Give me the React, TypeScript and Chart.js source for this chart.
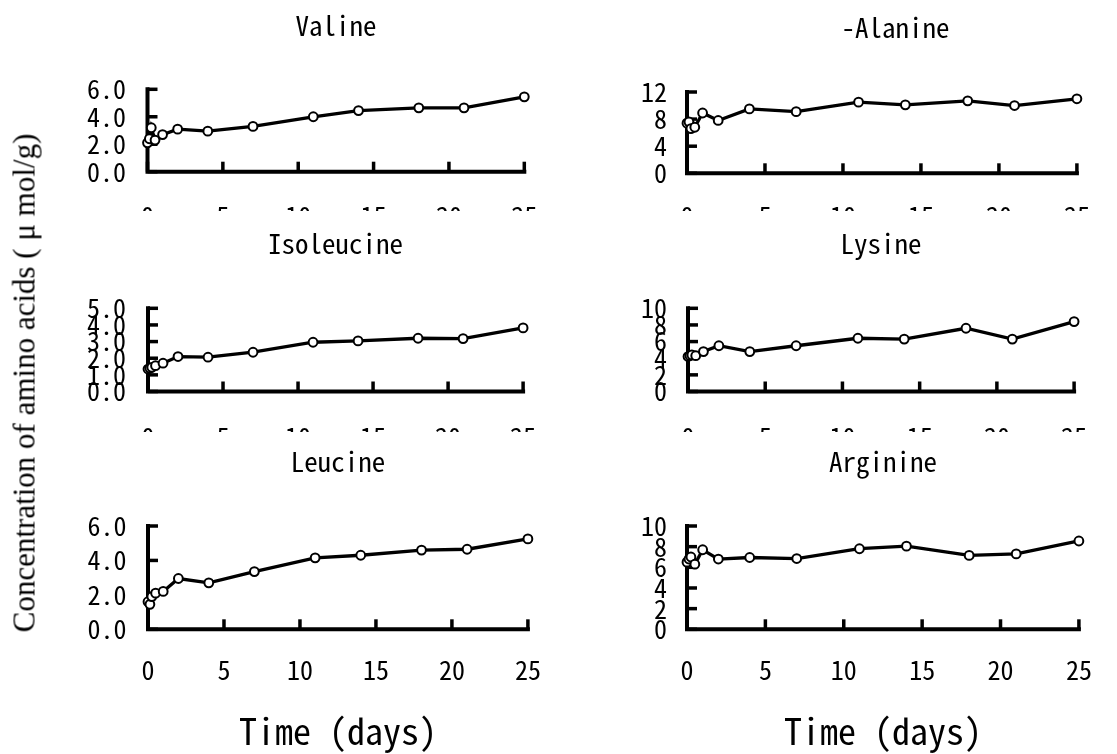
import React, { useEffect, useRef } from "react";
import { Chart, registerables } from "chart.js";

Chart.register(...registerables);

// ---------- data ----------
const days = [0, 0.125, 0.25, 0.5, 1, 2, 4, 7, 11, 14, 18, 21, 25];

const valine = [2.1, 2.4, 3.2, 2.3, 2.7, 3.1, 2.95, 3.3, 4.0, 4.45, 4.65, 4.65, 5.45];
const alanine = [7.4, 7.6, 6.6, 6.8, 8.9, 7.8, 9.5, 9.1, 10.5, 10.1, 10.7, 10.0, 11.0];
const isoleucine = [1.35, 1.4, 1.45, 1.55, 1.7, 2.1, 2.06, 2.36, 2.96, 3.04, 3.2, 3.18, 3.82];
const lysine = [4.2, 4.3, 4.4, 4.3, 4.8, 5.5, 4.8, 5.5, 6.4, 6.3, 7.6, 6.3, 8.4];
const leucine = [1.6, 1.45, 1.9, 2.1, 2.2, 2.95, 2.7, 3.35, 4.15, 4.3, 4.6, 4.65, 5.25];
const arginine = [6.5, 6.8, 7.0, 6.3, 7.7, 6.8, 6.95, 6.85, 7.8, 8.05, 7.15, 7.3, 8.55];

const xTickValues = [0, 5, 10, 15, 20, 25];
const xTickLabels = ["0", "5", "10", "15", "20", "25"];

const valineTicks = [0, 2, 4, 6];
const valineTickLabels = ["0.0", "2.0", "4.0", "6.0"];
const alanineTicks = [0, 4, 8, 12];
const alanineTickLabels = ["0", "4", "8", "12"];
const isoleucineTicks = [0, 1, 2, 3, 4, 5];
const isoleucineTickLabels = ["0.0", "1.0", "2.0", "3.0", "4.0", "5.0"];
const lysineTicks = [0, 2, 4, 6, 8, 10];
const lysineTickLabels = ["0", "2", "4", "6", "8", "10"];
const leucineTicks = [0, 2, 4, 6];
const leucineTickLabels = ["0.0", "2.0", "4.0", "6.0"];
const arginineTicks = [0, 2, 4, 6, 8, 10];
const arginineTickLabels = ["0", "2", "4", "6", "8", "10"];

const yAxisTitle = "Concentration of amino acids ( \u03bc mol/g)";
const xAxisTitle = "Time (days)";

// ---------- styles / layout ----------
const MONO = "'Noto Sans Mono CJK JP', 'Liberation Mono', monospace";
const SERIF = "'Liberation Serif', 'Times New Roman', serif";

type Panel = {
  title: string;
  values: number[];
  ticks: number[];
  tickLabels: string[];
  left: number;
  top: number;
  width: number;
  clipH: number;
  canvasH: number;
  yW: number;
  padR: number;
  tpt: number;
  tpb: number;
  xH: number;
  xTickPad: number;
  yTickPad: number;
  showXTitle: boolean;
};

const panels: Panel[] = [
  { title: "Valine", values: valine, ticks: valineTicks, tickLabels: valineTickLabels,
    left: 0, top: 0, width: 566, clipH: 211, canvasH: 260, yW: 147.5, padR: 20.5,
    tpt: 9.8, tpb: 47.1, xH: 88.3, xTickPad: 28.7, yTickPad: 21.5, showXTitle: false },
  { title: "  -Alanine", values: alanine, ticks: alanineTicks, tickLabels: alanineTickLabels,
    left: 560, top: 0, width: 557, clipH: 211, canvasH: 260, yW: 127, padR: 22,
    tpt: 11.3, tpb: 48.3, xH: 86.7, xTickPad: 27.1, yTickPad: 20, showXTitle: false },
  { title: "Isoleucine", values: isoleucine, ticks: isoleucineTicks, tickLabels: isoleucineTickLabels,
    left: 0, top: 211, width: 566, clipH: 221, canvasH: 260, yW: 148, padR: 20.5,
    tpt: 16.8, tpb: 48.1, xH: 79.5, xTickPad: 29.9, yTickPad: 22, showXTitle: false },
  { title: "Lysine", values: lysine, ticks: lysineTicks, tickLabels: lysineTickLabels,
    left: 560, top: 211, width: 557, clipH: 221, canvasH: 260, yW: 128, padR: 22,
    tpt: 16.8, tpb: 48.1, xH: 79.5, xTickPad: 29.9, yTickPad: 21, showXTitle: false },
  { title: "Leucine", values: leucine, ticks: leucineTicks, tickLabels: leucineTickLabels,
    left: 0, top: 432, width: 566, clipH: 322, canvasH: 322, yW: 148, padR: 20.5,
    tpt: 13.3, tpb: 48.3, xH: 124.7, xTickPad: 25.1, yTickPad: 21.5, showXTitle: true },
  { title: "Arginine", values: arginine, ticks: arginineTicks, tickLabels: arginineTickLabels,
    left: 560, top: 432, width: 557, clipH: 322, canvasH: 322, yW: 127, padR: 22,
    tpt: 13.3, tpb: 48.3, xH: 124.7, xTickPad: 25.1, yTickPad: 20, showXTitle: true },
];

const inwardAxes = {
  id: "inwardAxes",
  beforeDatasetsDraw(chart: any) {
    const { ctx, chartArea } = chart;
    const { left, right, top, bottom } = chartArea;
    const xs = chart.scales.x;
    const ys = chart.scales.y;
    ctx.save();
    ctx.strokeStyle = "#000";
    ctx.lineCap = "butt";
    ctx.lineWidth = 3.5;
    ys.ticks.forEach((t: any) => {
      const py = ys.getPixelForValue(t.value);
      ctx.beginPath();
      ctx.moveTo(left, py);
      ctx.lineTo(left + 10, py);
      ctx.stroke();
    });
    xs.ticks.forEach((t: any) => {
      const px = xs.getPixelForValue(t.value);
      ctx.beginPath();
      ctx.moveTo(px, bottom);
      ctx.lineTo(px, bottom - 10);
      ctx.stroke();
    });
    ctx.lineWidth = 4;
    ctx.lineCap = "square";
    ctx.lineJoin = "miter";
    ctx.beginPath();
    ctx.moveTo(left, top);
    ctx.lineTo(left, bottom);
    ctx.lineTo(right, bottom);
    ctx.stroke();
    ctx.restore();
  },
};

function PanelChart({ p }: { p: Panel }) {
  const ref = useRef<HTMLCanvasElement | null>(null);
  useEffect(() => {
    if (!ref.current) return;
    const yMax = p.ticks[p.ticks.length - 1];
    const chart = new Chart(ref.current, {
      type: "line",
      data: {
        datasets: [
          {
            data: days.map((d, i) => ({ x: d, y: p.values[i] })),
            borderColor: "#000",
            borderWidth: 3.3,
            pointRadius: 4.4,
            pointBorderWidth: 2,
            pointBackgroundColor: "#fff",
            pointBorderColor: "#000",
            tension: 0,
            clip: false as any,
          },
        ],
      },
      options: {
        responsive: false,
        animation: false,
        events: [],
        layout: { padding: { left: 0, right: p.padR, top: 0, bottom: 0 } },
        plugins: {
          legend: { display: false },
          tooltip: { enabled: false },
          title: {
            display: true,
            text: p.title,
            fullSize: false,
            color: "#000",
            font: { family: MONO, size: 27, weight: "normal", lineHeight: 1.2 },
            padding: { top: p.tpt, bottom: p.tpb },
          },
        },
        scales: {
          x: {
            type: "linear",
            min: 0,
            max: 25,
            grid: { display: false, drawTicks: false },
            border: { display: false },
            afterBuildTicks: (s: any) => {
              s.ticks = xTickValues.map((v) => ({ value: v }));
            },
            afterFit: (s: any) => {
              s.height = p.xH;
            },
            ticks: {
              autoSkip: false,
              maxRotation: 0,
              minRotation: 0,
              padding: p.xTickPad,
              color: "#000",
              font: { family: MONO, size: 26, lineHeight: 1.2 },
              callback: (_v: any, i: number) => xTickLabels[i],
            },
            title: {
              display: p.showXTitle,
              text: xAxisTitle,
              color: "#000",
              font: { family: MONO, size: 36, lineHeight: 1.2 },
              padding: { top: 0, bottom: 1.4 },
            },
          },
          y: {
            type: "linear",
            min: 0,
            max: yMax,
            grid: { display: false, drawTicks: false },
            border: { display: false },
            afterBuildTicks: (s: any) => {
              s.ticks = p.ticks.map((v) => ({ value: v }));
            },
            afterFit: (s: any) => {
              s.width = p.yW;
            },
            ticks: {
              autoSkip: false,
              padding: p.yTickPad,
              color: "#000",
              font: { family: MONO, size: 26, lineHeight: 1.2 },
              callback: (_v: any, i: number) => p.tickLabels[i],
            },
          },
        },
      },
      plugins: [inwardAxes],
    });
    return () => chart.destroy();
  }, [p]);
  return (
    <div
      style={{
        position: "absolute",
        left: p.left,
        top: p.top,
        width: p.width,
        height: p.clipH,
        overflow: "hidden",
      }}
    >
      <canvas
        ref={ref}
        width={p.width}
        height={p.canvasH}
        style={{ display: "block", width: p.width, height: p.canvasH }}
      />
    </div>
  );
}

export default function App() {
  return (
    <div
      style={{
        position: "absolute",
        left: 0,
        top: 0,
        width: 1117,
        height: 754,
        background: "#fff",
        overflow: "hidden",
      }}
    >
      {panels.map((p) => (
        <PanelChart key={p.title} p={p} />
      ))}
      <div
        style={{
          position: "absolute",
          left: 24,
          top: 383,
          transform: "translate(-50%, -50%) rotate(-90deg)",
          whiteSpace: "nowrap",
          fontFamily: SERIF,
          fontSize: 31,
          color: "#000",
          lineHeight: 1,
        }}
      >
        {yAxisTitle}
      </div>
    </div>
  );
}
